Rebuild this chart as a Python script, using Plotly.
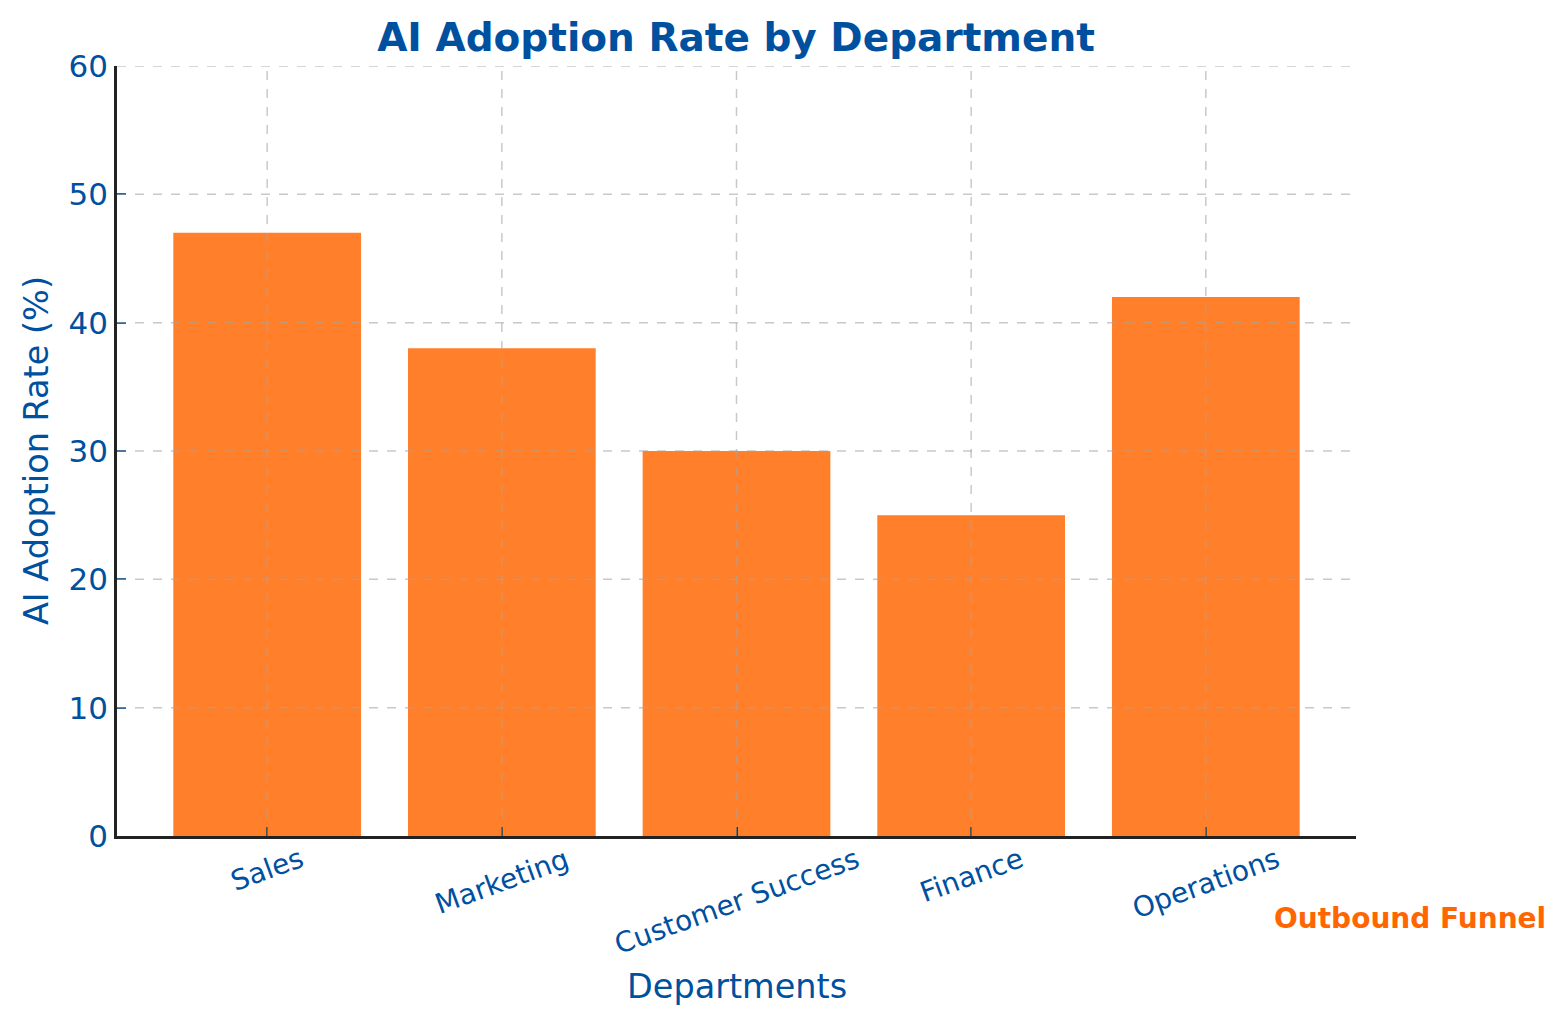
import plotly.graph_objects as go

departments = ["Sales", "Marketing", "Customer Success", "Finance", "Operations"]
adoption_rates = [47, 38, 30, 25, 42]
y_ticks = [0, 10, 20, 30, 40, 50, 60]

BLUE = "#0050A0"
ORANGE = "#FF7F2A"
FONT = "DejaVu Sans"

# page body has an 8px margin, so the figure is shrunk by 8px on each axis
W, H = 1558, 1016

fig = go.Figure()
fig.add_trace(go.Bar(
    x=list(range(len(departments))), y=adoption_rates,
    marker=dict(color=ORANGE, line=dict(width=0)),
    width=0.8, hoverinfo="skip",
))

grid_style = dict(color="rgba(165,165,165,0.6)", width=1.5, dash="dash")
for t in y_ticks[1:]:
    fig.add_shape(type="line", xref="x domain", yref="y", x0=0, x1=1, y0=t, y1=t,
                  line=grid_style, layer="above")
for i in range(len(departments)):
    fig.add_shape(type="line", xref="x", yref="y domain", x0=i, x1=i, y0=0, y1=1,
                  line=grid_style, layer="above")

for i, name in enumerate(departments):
    fig.add_annotation(x=i, xref="x", y=-0.004, yref="paper", text=name,
                       textangle=-20, showarrow=False, xanchor="center", yanchor="top",
                       font=dict(family=FONT, size=28, color=BLUE))

fig.add_annotation(x=0.5, xref="paper", y=-0.195, yref="paper", text="Departments",
                   showarrow=False, xanchor="center", yanchor="middle",
                   font=dict(family=FONT, size=33.5, color=BLUE))
fig.add_annotation(x=-0.0653, xref="paper", y=0.5, yref="paper", text="AI Adoption Rate (%)",
                   textangle=-90, showarrow=False, xanchor="center", yanchor="middle",
                   font=dict(family=FONT, size=33.5, color=BLUE))
fig.add_annotation(x=1.1548, xref="paper", y=-0.1065, yref="paper", text="<b>Outbound Funnel</b>",
                   showarrow=False, xanchor="right", yanchor="middle",
                   font=dict(family=FONT, size=28, color="#FF6600"))

fig.update_layout(
    width=W, height=H,
    margin=dict(l=109, r=210, t=58, b=188),
    paper_bgcolor="white", plot_bgcolor="white",
    showlegend=False,
    title=dict(text="<b>AI Adoption Rate by Department</b>", x=728 / W, xref="container",
               y=1 - 29 / H, yref="container", xanchor="center", yanchor="middle",
               font=dict(family=FONT, size=39, color=BLUE)),
    font=dict(family=FONT, color=BLUE),
)
fig.update_xaxes(
    range=[-0.64, 4.64], tickvals=list(range(len(departments))), showticklabels=False,
    ticks="inside", ticklen=9, tickwidth=2, tickcolor="#222222",
    showgrid=False, zeroline=False,
    showline=True, linecolor="#222222", linewidth=2.5, layer="above traces",
)
fig.update_yaxes(
    range=[0, 60], tickvals=y_ticks, ticks="inside", ticklen=9, tickwidth=2, tickcolor=BLUE,
    tickfont=dict(family=FONT, size=31, color=BLUE),
    showgrid=False, zeroline=False,
    showline=True, linecolor="#222222", linewidth=2.5, layer="above traces",
)

fig.write_html("out.html")
